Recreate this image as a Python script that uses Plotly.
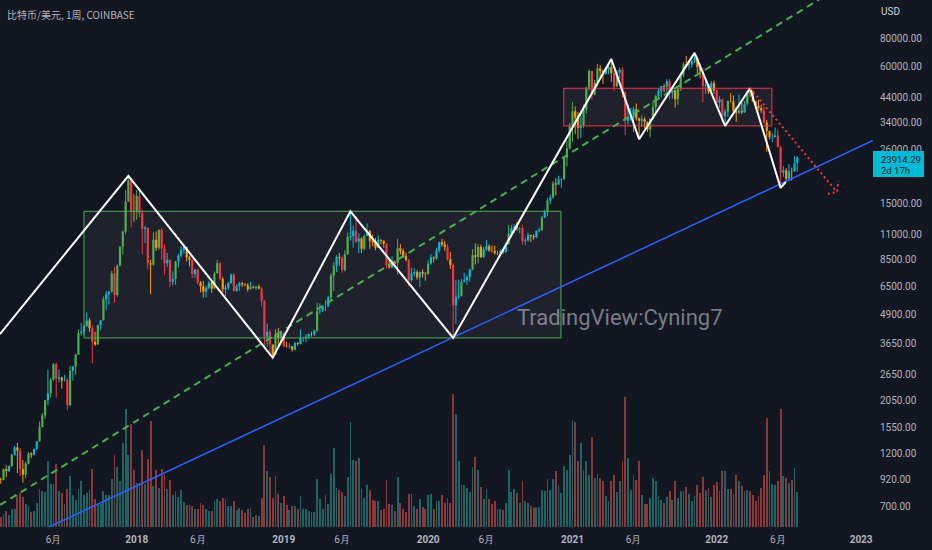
import math
import pandas as pd
import plotly.graph_objects as go

# ---------------- data ----------------
week_start = "2017-01-16"      # Monday of the first weekly bar
first_open = 820

close = [
    920, 915, 1020, 1000, 1050, 1180, 1270, 1230, 1020, 965,
    1080, 1195, 1180, 1250, 1350, 1560, 1760, 2050, 2200, 2520,
    2950, 2550, 2580, 2500, 2510, 1950, 2760, 2880, 3250, 4050,
    4100, 4350, 4600, 4250, 3700, 3600, 4380, 4600, 5700, 6000,
    6150, 7400, 5950, 8000, 9700, 11300, 15300, 19000, 13900, 13850,
    16200, 13600, 11600, 11750, 8200, 8100, 10400, 9600, 11500, 9500,
    8200, 8500, 6800, 7000, 8350, 8850, 9400, 9650, 8700, 8500,
    7350, 7700, 6750, 6500, 6150, 6400, 6750, 6350, 7400, 8200,
    7000, 6300, 6400, 6700, 7300, 6200, 6500, 6700, 6630, 6590,
    6300, 6450, 6400, 6480, 6350, 5600, 3900, 4100, 3600, 3250,
    4000, 3850, 4050, 3550, 3530, 3540, 3420, 3650, 3620, 3850,
    3850, 3900, 4000, 3990, 4140, 5050, 5100, 5300, 5300, 5800,
    7250, 8000, 8750, 8650, 7650, 8980, 10700, 10800, 11400, 10200,
    10550, 9500, 10800, 11400, 10300, 10150, 9600, 10400, 10300, 10000,
    8050, 7870, 8300, 8200, 9550, 9300, 8800, 8500, 6900, 7400,
    7500, 7100, 7500, 7380, 7350, 8180, 8700, 8600, 9350, 10150,
    9900, 9650, 8550, 8050, 5350, 5850, 5900, 6780, 6900, 7130,
    7700, 8900, 8750, 9680, 8720, 9450, 9750, 9330, 9300, 9100,
    9070, 9250, 9200, 9950, 11100, 11700, 11900, 11650, 11700, 10250,
    10330, 10930, 10780, 10670, 11380, 11500, 13030, 13750, 15480, 15950,
    18400, 18200, 19150, 19270, 23850, 26250, 33000, 38200, 35800, 32300,
    33100, 38900, 48600, 57500, 45200, 51000, 59000, 57400, 55800, 58200,
    59800, 56200, 49100, 56600, 58200, 46400, 34700, 35600, 35800, 39000,
    35600, 34700, 35300, 34250, 31800, 35400, 39850, 44600, 47000, 49300,
    48900, 51800, 46000, 47300, 43200, 48200, 55000, 61500, 60900, 61300,
    63300, 65500, 59700, 57200, 49400, 50100, 46700, 50800, 47300, 41800,
    43100, 36300, 38200, 42400, 42200, 38400, 37700, 38400, 37800, 41300,
    46800, 46400, 42200, 40400, 39500, 38500, 34100, 31300, 29450, 29450,
    29900, 26600, 20550, 21000, 19300, 20850, 20800, 22580, 23914.29,
]

high = [
    930, 935, 1025, 1060, 1060, 1190, 1290, 1330, 1260, 1120,
    1100, 1210, 1210, 1255, 1350, 1650, 1800, 2050, 2790, 2560,
    2990, 3000, 2800, 2600, 2650, 2560, 2900, 2900, 3280, 4200,
    4480, 4400, 4980, 4700, 4350, 4100, 4400, 4600, 5850, 6200,
    6200, 7600, 7900, 8100, 9750, 11400, 17200, 19890, 19100, 16500,
    17250, 17200, 14100, 12000, 11800, 8500, 11200, 11300, 11550, 11700,
    9950, 9100, 8500, 7550, 8400, 9000, 9750, 9990, 9700, 8850,
    8520, 7750, 7750, 6850, 6850, 6550, 6850, 6800, 7550, 8500,
    8300, 7150, 6600, 6800, 7420, 7400, 6600, 6800, 6800, 6700,
    6700, 6800, 6550, 6500, 6600, 6450, 5650, 4450, 4200, 3600,
    4200, 4250, 4100, 4100, 3700, 3650, 3550, 3700, 3700, 4200,
    3900, 4000, 4030, 4100, 4200, 5500, 5470, 5380, 5650, 5900,
    7400, 8300, 8900, 9100, 8800, 9350, 11200, 13880, 12000, 13200,
    11100, 10650, 10950, 12300, 11500, 10950, 10600, 10900, 10450, 10350,
    10050, 8550, 8800, 8450, 10500, 9950, 9500, 9100, 8550, 7850,
    7800, 7650, 7550, 7700, 7500, 8450, 9000, 8800, 9600, 10200,
    10500, 10300, 9950, 9200, 8200, 6900, 6950, 7000, 7450, 7300,
    7750, 9450, 10050, 9950, 9900, 9700, 10400, 9950, 9800, 9800,
    9300, 9450, 9350, 10100, 12100, 12050, 12200, 12450, 11800, 12100,
    10600, 11200, 10950, 11000, 11450, 11750, 13250, 14100, 15950, 16400,
    18800, 19400, 19900, 19400, 24300, 28400, 34000, 41950, 40100, 37850,
    38500, 40950, 49000, 58350, 57500, 52600, 61800, 61000, 58400, 60000,
    61250, 64900, 57500, 58000, 59600, 59600, 46650, 40900, 39500, 40000,
    41350, 35750, 36650, 35950, 34500, 35500, 42600, 45300, 48150, 49400,
    50500, 52900, 52950, 48850, 47400, 49000, 56100, 62900, 67000, 63700,
    64300, 69000, 66300, 59900, 59200, 51900, 50350, 51900, 52100, 47600,
    44450, 43500, 38950, 42600, 45850, 44800, 39850, 45400, 42600, 42350,
    47000, 48240, 47200, 42450, 42950, 40800, 40000, 35000, 31400, 30600,
    32400, 31700, 26900, 21900, 21500, 22400, 21600, 24280, 24200,
]

low = [
    815, 880, 910, 940, 990, 1045, 1170, 980, 950, 890,
    930, 1070, 1140, 1170, 1240, 1350, 1560, 1700, 1950, 2100,
    2500, 2100, 2450, 2300, 2480, 1850, 1930, 2500, 2650, 3250,
    3950, 3950, 4300, 4100, 2980, 3550, 3600, 4160, 4600, 5100,
    5400, 6100, 5500, 5850, 7950, 9000, 11000, 15300, 11800, 12500,
    12750, 13100, 9000, 10050, 7700, 6000, 8000, 9300, 9400, 8500,
    7300, 7900, 6450, 6550, 6600, 7850, 8700, 9050, 8350, 7950,
    7050, 7070, 6600, 6100, 5800, 5800, 6300, 6070, 6300, 7400,
    6900, 6100, 5900, 6250, 6700, 6150, 6150, 6200, 6450, 6500,
    6150, 6300, 6350, 6250, 6300, 5300, 3550, 3500, 3300, 3150,
    3250, 3550, 3650, 3500, 3500, 3450, 3350, 3390, 3550, 3600,
    3700, 3680, 3820, 3900, 3920, 4100, 4900, 5000, 5050, 5250,
    5650, 6200, 7500, 8000, 7450, 7550, 8950, 10300, 9600, 10100,
    9080, 9100, 9350, 10800, 9500, 9750, 9350, 9600, 9950, 9600,
    7750, 7750, 7800, 7900, 7300, 8950, 8650, 8350, 6500, 6800,
    7200, 6950, 6450, 7100, 6870, 7300, 8080, 8250, 8500, 9150,
    9700, 9300, 8400, 7750, 3850, 4450, 5700, 5850, 6750, 6600,
    6800, 7650, 8100, 8200, 8650, 8650, 9300, 9200, 9150, 8950,
    8900, 9050, 9000, 9100, 9900, 10950, 11150, 11350, 11100, 9900,
    9850, 10200, 10150, 10400, 10550, 11200, 11400, 12950, 13200, 14900,
    15800, 16300, 18100, 17600, 19000, 21900, 25900, 28000, 30300, 28800,
    29200, 32300, 37400, 47000, 43000, 44950, 49300, 53250, 50400, 55400,
    55500, 51500, 47000, 48800, 53000, 43800, 30000, 33400, 34800, 31000,
    34800, 28800, 32700, 32100, 31000, 29300, 35300, 37300, 43700, 43950,
    46400, 46550, 42800, 43400, 39600, 40750, 46900, 53900, 59700, 58000,
    59400, 62300, 55600, 53500, 42000, 45650, 45500, 45600, 45700, 40500,
    39600, 34050, 32950, 36250, 41800, 38000, 34300, 37200, 37150, 37600,
    40500, 44200, 42000, 39200, 38550, 37600, 33700, 25400, 28700, 28000,
    29300, 26550, 17600, 19650, 18650, 18800, 18900, 20750, 20700,
]

volume = [
    11,
    10, 12.7, 15.7, 11.7, 17.7, 17.7, 31.7, 34, 30, 22.7,
    21, 15, 16, 24.3, 38.3, 35.7, 35, 65.7, 42.7, 42.7,
    63.3, 35.7, 34.3, 23.3, 37.7, 51.3, 31.7, 26.7, 37.7, 45.7,
    31.7, 34.3, 37.3, 58.3, 28.3, 21.7, 23.3, 36, 32.3, 31.7,
    47.7, 72.3, 60, 46, 84.3, 117.7, 71.7, 103.3, 56.7, 44.3,
    44.3, 76.7, 43.3, 67.7, 105.7, 41, 56.7, 39.3, 57.7, 52.7,
    38.3, 46.7, 31.7, 36, 30, 36.7, 25, 21.7, 22.3, 21,
    17.7, 17.7, 24.3, 22.3,
    18.3, 15.7, 15.7, 26, 28.3, 25.7, 29.3, 27.7, 20.7, 20.7,
    26, 16.7, 19.3, 16.7, 14, 18.3, 19.3, 10, 11.7, 11,
    29.3, 81.7, 56.3, 50, 29, 50.7, 32.7, 24.3, 30.7, 21.7,
    16.7, 20.7, 21, 17.7, 30.7, 18.3, 18.3, 16, 15.3, 15.3,
    47.7, 27.7, 18.3, 31.7, 23.3, 53, 79, 39.3, 36.7, 35,
    30.7, 49.7, 105, 67.3, 66.3, 69, 37.7, 29.3, 42.3, 36.7,
    27, 25.7, 26.3, 17.3, 18.3, 47.3, 22.7, 22.3, 16, 49.7,
    23.7, 18.3, 15.3, 33, 32.7, 21,
    17.7, 28.3, 19.7, 18.3, 31.7, 33.3, 17.7, 26,
    26, 32.3, 24.3, 29.3, 23.7, 133, 112.7, 66.3, 41.7, 42.3,
    39.3, 35.3, 60, 69.7, 56.7, 39.7, 27.7, 38.3, 28.3, 22.7,
    26.3, 18.3, 18.3, 16.7, 24.3, 57, 35.3, 37.7, 34.3, 23.7,
    46.3, 26.3, 23.7, 21, 19.3, 20.3, 19.7, 36.7, 36, 47.7,
    37, 48, 56.3, 42.3, 34.3, 60.7, 56.7, 72.3, 106.7, 105,
    66.3, 84, 57, 65.7, 52.3, 89.7, 48.7, 53, 48.7, 46.3,
    31.3, 26.3, 46.3, 52.3, 35.3, 46.3,
    65.7, 130, 69, 37.3, 51.7, 47, 66.3, 31.7, 23, 23,
    29, 48.7, 46.3, 30.7, 27, 24, 29.7, 35.7, 27.3, 45.7,
    29, 36.3, 36.3, 39.7, 33, 26.3, 31.3, 41.7, 34, 50,
    37.3, 39, 29.7, 42.3, 44.7, 36.3, 55.7, 55.7, 37.7, 38,
    33, 51.7, 45.7, 40.7, 36.3, 37.3, 35.7, 31.7, 25.7, 30.7,
    39, 52.3, 109, 55.7, 43, 42.3, 45.7, 118, 51, 49,
    44, 47, 59, 34.7,
]

# 20000 tick sits under the last-price label in the reference, so it is not drawn
price_ticks = [700, 920, 1200, 1550, 2050, 2650, 3650, 4900, 6500, 8500,
               11000, 15000, 26000, 34000, 44000, 60000, 80000]
time_tick_dates = ["2017-06-05", "2018-01-01", "2018-06-04", "2019-01-07", "2019-06-03",
                   "2020-01-06", "2020-06-01", "2021-01-04", "2021-06-07", "2022-01-03",
                   "2022-06-06", "2023-01-02"]
time_tick_labels = ["6月", "2018", "6月", "2019", "6月", "2020", "6月", "2021", "6月",
                    "2022", "6月", "2023"]

# drawings (date, price)
zigzag_dates = ["2017-01-21", "2017-12-11", "2018-12-10", "2019-06-24", "2020-03-09",
                "2021-04-12", "2021-06-21", "2021-11-08", "2022-01-24", "2022-03-28",
                "2022-06-13", "2022-06-26"]
zigzag_prices = [4000, 19890, 3150, 13880, 3850, 64900, 28800, 69000, 32950, 48240,
                 17600, 18670]
trend_dates = ["2016-12-27", "2022-10-15"]          # green dashed
trend_prices = [666, 126700]
support_dates = ["2017-04-07", "2023-02-01"]        # blue
support_prices = [518.7, 28430]
proj_dates = ["2022-03-28", "2022-11-02"]           # red dotted projection
proj_prices = [48240, 16870]
proj_head_dates = ["2022-10-10", "2022-11-02", "2022-11-06"]
proj_head_prices = [16570, 16870, 18860]
range_box_dates = ["2017-08-21", "2020-12-06"]
range_box_prices = [3850, 13880]
top_box_dates = ["2020-12-13", "2022-05-22"]
top_box_prices = [32950, 48240]

last_price = 23914.29
countdown = "2d 17h"
title_text = "比特币/美元, 1周, COINBASE"
watermark = "TradingView:Cyning7"

assert len(close) == len(high) == len(low) == len(volume)

# ---------------- build ----------------
BG = "#131722"
TXT = "#b2b5be"
LOG_LO, LOG_HI = 2.75403, 5.07152
X_RANGE = ["2017-01-21 04:48", "2023-02-01"]
PLOT_W, PLOT_H = 873, 527

dates = pd.date_range(week_start, periods=len(close), freq="7D")
xd = [d.strftime("%Y-%m-%d") for d in dates]
opens = [first_open] + close[:-1]

COLORS = {"green": "#4caf50", "red": "#f23645", "cyan": "#00bcd4", "orange": "#ff9800"}


def candle_class(o, c):
    ch = c / o - 1
    if ch > 0.10:
        return "green"
    if ch < -0.10:
        return "red"
    return "cyan" if c >= o else "orange"


fig = go.Figure()

# volume (primary, hidden linear axis)
vol_colors = ["rgba(38,166,154,0.55)" if c >= o else "rgba(239,83,80,0.55)"
              for o, c in zip(opens, close)]
fig.add_trace(go.Bar(x=xd, y=volume, marker=dict(color=vol_colors, line=dict(width=0)),
                     width=4.6 * 86400000, yaxis="y", hoverinfo="skip", showlegend=False))

# box fills (under candles)
for bd, bp in [(range_box_dates, range_box_prices), (top_box_dates, top_box_prices)]:
    fig.add_trace(go.Scatter(
        x=[bd[0], bd[1], bd[1], bd[0], bd[0]],
        y=[bp[0], bp[0], bp[1], bp[1], bp[0]],
        mode="lines", fill="toself", fillcolor="rgba(255,255,255,0.05)",
        line=dict(width=0), yaxis="y2", hoverinfo="skip", showlegend=False))

# candles
cls = [candle_class(o, c) for o, c in zip(opens, close)]
for name, col in COLORS.items():
    wx, wy, bx, by = [], [], [], []
    for d, o, h, l, c, k in zip(xd, opens, high, low, close, cls):
        if k != name:
            continue
        wx += [d, d, None]
        wy += [l, h, None]
        bx += [d, d, None]
        by += [o, c, None]
    fig.add_trace(go.Scatter(x=wx, y=wy, mode="lines", line=dict(color=col, width=1),
                             yaxis="y2", hoverinfo="skip", showlegend=False, connectgaps=False))
    fig.add_trace(go.Scatter(x=bx, y=by, mode="lines", line=dict(color=col, width=2.2),
                             yaxis="y2", hoverinfo="skip", showlegend=False, connectgaps=False))

# box outlines
for bd, bp, edge in [(range_box_dates, range_box_prices, "#4caf50"),
                     (top_box_dates, top_box_prices, "#f23645")]:
    fig.add_trace(go.Scatter(
        x=[bd[0], bd[1], bd[1], bd[0], bd[0]],
        y=[bp[0], bp[0], bp[1], bp[1], bp[0]],
        mode="lines", line=dict(color=edge, width=1), yaxis="y2",
        hoverinfo="skip", showlegend=False))

# trend lines
fig.add_trace(go.Scatter(x=trend_dates, y=trend_prices, mode="lines",
                         line=dict(color="#4caf50", width=2, dash="7px,5px"),
                         yaxis="y2", hoverinfo="skip", showlegend=False))
fig.add_trace(go.Scatter(x=support_dates, y=support_prices, mode="lines",
                         line=dict(color="#2962ff", width=1.5),
                         yaxis="y2", hoverinfo="skip", showlegend=False))
fig.add_trace(go.Scatter(x=zigzag_dates, y=zigzag_prices, mode="lines",
                         line=dict(color="#ffffff", width=2),
                         yaxis="y2", hoverinfo="skip", showlegend=False))
fig.add_trace(go.Scatter(x=proj_dates, y=proj_prices, mode="lines",
                         line=dict(color="#f23645", width=2, dash="2px,3px"),
                         yaxis="y2", hoverinfo="skip", showlegend=False))
fig.add_trace(go.Scatter(x=proj_head_dates, y=proj_head_prices, mode="lines",
                         line=dict(color="#f23645", width=2, dash="2px,3px"),
                         yaxis="y2", hoverinfo="skip", showlegend=False))

# last price label (paper coords derived from price on the log scale)
pf = (math.log10(last_price) - LOG_LO) / (LOG_HI - LOG_LO)
px = 1.0 / PLOT_H

ann = []
# label box as an annotation so it sits above the axis tick labels
ann.append(dict(text=" ", xref="paper", yref="paper", x=1.0, y=pf + 6.5 * px,
                xanchor="left", yanchor="top", showarrow=False, bgcolor="#00bcd4",
                width=51, height=26, borderpad=0, borderwidth=0,
                font=dict(family="Roboto", size=9)))
ann.append(dict(text=f"{last_price:.2f}", xref="paper", yref="paper", x=1.0 + 6.0 / PLOT_W,
                y=pf - 1.5 * px, xanchor="left", yanchor="middle", showarrow=False,
                font=dict(family="Roboto", size=9.5, color="#10161f")))
ann.append(dict(text=countdown, xref="paper", yref="paper", x=1.0 + 6.0 / PLOT_W,
                y=pf - 12.5 * px, xanchor="left", yanchor="middle", showarrow=False,
                font=dict(family="Roboto", size=9.5, color="#10161f")))
ann.append(dict(text="USD", xref="paper", yref="paper", x=1.0 + 6.0 / PLOT_W,
                y=1 - 11.7 * px, xanchor="left", yanchor="middle", showarrow=False,
                font=dict(family="Roboto", size=10, color="#d1d4dc")))
ann.append(dict(text=title_text, xref="paper", yref="paper", x=5.0 / PLOT_W,
                y=1 - 15 * px, xanchor="left", yanchor="middle", showarrow=False,
                font=dict(family="Noto Sans CJK SC", size=10, color=TXT)))
ann.append(dict(text=watermark, xref="paper", yref="paper", x=620.0 / PLOT_W,
                y=1 - 317 * px, xanchor="center", yanchor="middle", showarrow=False,
                font=dict(family="Roboto", size=22, color="rgba(209,212,220,0.55)")))

ticktext_x = [f"<b>{t}</b>" if t.isdigit() else t for t in time_tick_labels]

fig.update_layout(
    width=932, height=550,
    margin=dict(l=0, r=932 - PLOT_W, t=0, b=550 - PLOT_H),
    paper_bgcolor=BG, plot_bgcolor=BG,
    showlegend=False, bargap=0,
    annotations=ann,
    xaxis=dict(type="date", range=X_RANGE, tickvals=time_tick_dates, ticktext=ticktext_x,
               showgrid=False, zeroline=False, showline=False,
               ticks="outside", ticklen=3, tickcolor="rgba(0,0,0,0)",
               tickfont=dict(family="Roboto", size=10, color=TXT), fixedrange=True),
    yaxis=dict(range=[0, PLOT_H], visible=False, fixedrange=True),
    yaxis2=dict(type="log", range=[LOG_LO, LOG_HI], overlaying="y", side="right", anchor="x",
                tickvals=price_ticks, ticktext=[f"{v:.2f}" for v in price_ticks],
                showgrid=False, zeroline=False, showline=False,
                ticks="outside", ticklen=4, tickcolor="rgba(0,0,0,0)",
                tickfont=dict(family="Roboto", size=10, color=TXT), fixedrange=True),
)

fig.write_html("out.html")
